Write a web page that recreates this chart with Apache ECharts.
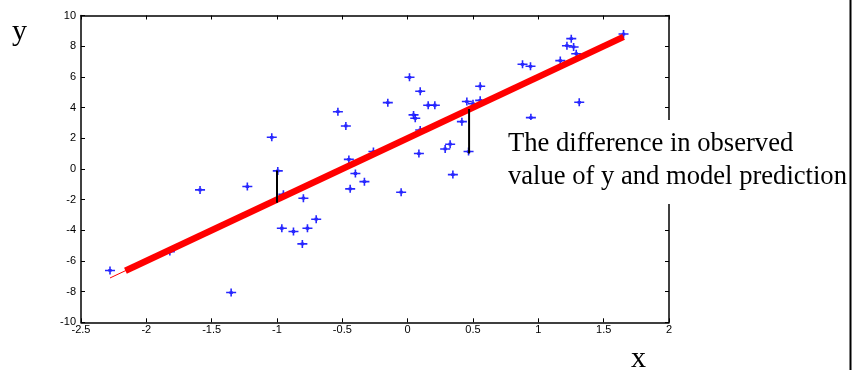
<!DOCTYPE html>
<html>
<head>
<meta charset="utf-8">
<style>
  html, body { margin: 0; padding: 0; background: #fff; }
  #chart { width: 852px; height: 370px; }
</style>
<script src="https://cdn.jsdelivr.net/npm/echarts@6/dist/echarts.min.js"></script>
</head>
<body>
<div id="chart"></div>
<script>
// Observed samples (x, y)
const observed = [
  [-2.278, -6.62], [-1.82, -5.39], [-1.589, -1.37], [-1.351, -8.06], [-1.227, -1.15],
  [-1.04, 2.06], [-0.994, -0.13], [-0.951, -1.65], [-0.963, -3.87], [-0.874, -4.08],
  [-0.806, -4.89], [-0.798, -1.91], [-0.767, -3.87], [-0.70, -3.28], [-0.534, 3.73],
  [-0.473, 2.80], [-0.45, 0.62], [-0.44, -1.30], [-0.40, -0.30], [-0.331, -0.83],
  [-0.262, 1.13], [-0.152, 4.32], [-0.05, -1.52], [0.014, 5.97], [0.045, 3.52],
  [0.058, 3.30], [0.086, 1.00], [0.096, 5.06], [0.096, 2.54], [0.157, 4.15],
  [0.208, 4.15], [0.287, 1.30], [0.325, 1.61], [0.346, -0.37], [0.415, 3.08],
  [0.453, 4.39], [0.50, 4.25], [0.466, 1.13], [0.555, 4.47], [0.555, 5.39],
  [0.879, 6.82], [0.94, 6.69], [0.943, 3.34], [1.168, 7.06], [1.219, 8.03],
  [1.252, 8.49], [1.27, 7.95], [1.29, 7.51], [1.313, 4.34], [1.652, 8.79]
];

// Fitted model y = 2 + 4x: full-range thin line and the emphasised segment
const fitThin = [[-2.278, -7.11], [1.652, 8.61]];
const fitThick = [[-2.16, -6.64], [1.652, 8.61]];

// Residuals: observed value to model prediction
const residualA = [[-1.0, -0.10], [-1.0, -2.20]];
const residualB = [[0.47, 1.00], [0.47, 3.90]];

const xTicks = { min: -2.5, max: 2, interval: 0.5 };
const yTicks = { min: -10, max: 10, interval: 2 };

const annotation = ['The difference in observed', 'value of y and model prediction'];

const starSymbol = 'path://M0,3.2 L10,3.2 L10,4.8 L0,4.8 Z M4.2,0 L5.8,0 L5.8,8 L4.2,8 Z M3.3,2.6 L6.7,2.6 L6.7,5.4 L3.3,5.4 Z';

const tickFont = { fontFamily: 'Liberation Sans', fontSize: 11, color: '#000' };
const frameLine = { lineStyle: { color: '#000', width: 1.5 } };

function xAxisDef(pos, showLabel) {
  return {
    type: 'value', position: pos, min: xTicks.min, max: xTicks.max, interval: xTicks.interval,
    axisLine: { show: true, onZero: false, ...frameLine },
    axisTick: { show: true, inside: true, length: 4, lineStyle: { color: '#000', width: 1 } },
    axisLabel: { show: showLabel, margin: 2, ...tickFont },
    splitLine: { show: false }
  };
}
function yAxisDef(pos, showLabel) {
  return {
    type: 'value', position: pos, min: yTicks.min, max: yTicks.max, interval: yTicks.interval,
    axisLine: { show: true, onZero: false, ...frameLine },
    axisTick: { show: true, inside: true, length: 4, lineStyle: { color: '#000', width: 1 } },
    axisLabel: { show: showLabel, margin: 5, ...tickFont },
    splitLine: { show: false }
  };
}

const chart = echarts.init(document.getElementById('chart'));
chart.setOption({
  animation: false,
  backgroundColor: '#fff',
  grid: { left: 81, right: 183, top: 15.5, bottom: 47.7 },
  xAxis: [xAxisDef('bottom', true), xAxisDef('top', false)],
  yAxis: [yAxisDef('left', true), yAxisDef('right', false)],
  series: [
    {
      type: 'scatter', data: observed, symbol: starSymbol, symbolSize: [10, 8],
      itemStyle: { color: '#1010ff', opacity: 0.9 }, z: 2
    },
    {
      type: 'line', data: fitThin, symbol: 'none',
      lineStyle: { color: '#ff0000', width: 1 }, z: 3
    },
    {
      type: 'line', data: fitThick, symbol: 'none',
      lineStyle: { color: '#ff0000', width: 6.5, cap: 'butt' }, z: 4
    },
    {
      type: 'line', data: residualA, symbol: 'none',
      lineStyle: { color: '#000', width: 2 }, z: 5
    },
    {
      type: 'line', data: residualB, symbol: 'none',
      lineStyle: { color: '#000', width: 2 }, z: 5
    }
  ],
  graphic: [
    {
      type: 'rect', z: 100, shape: { x: 498, y: 120, width: 350, height: 84 },
      style: { fill: '#fff' }
    },
    {
      type: 'text', z: 101, left: 508, top: 128,
      style: {
        text: annotation.join('\n'), font: '26.6px "Liberation Serif"',
        lineHeight: 33, fill: '#000'
      }
    },
    {
      type: 'text', z: 101, left: 12, top: 17,
      style: { text: 'y', font: '30px "Liberation Serif"', fill: '#000' }
    },
    {
      type: 'text', z: 101, left: 631, top: 344,
      style: { text: 'x', font: '30px "Liberation Serif"', fill: '#000' }
    },
    {
      type: 'line', z: 102, shape: { x1: 850.5, y1: 0, x2: 850.5, y2: 370 },
      style: { stroke: '#000', lineWidth: 2 }
    }
  ]
});
</script>
</body>
</html>
